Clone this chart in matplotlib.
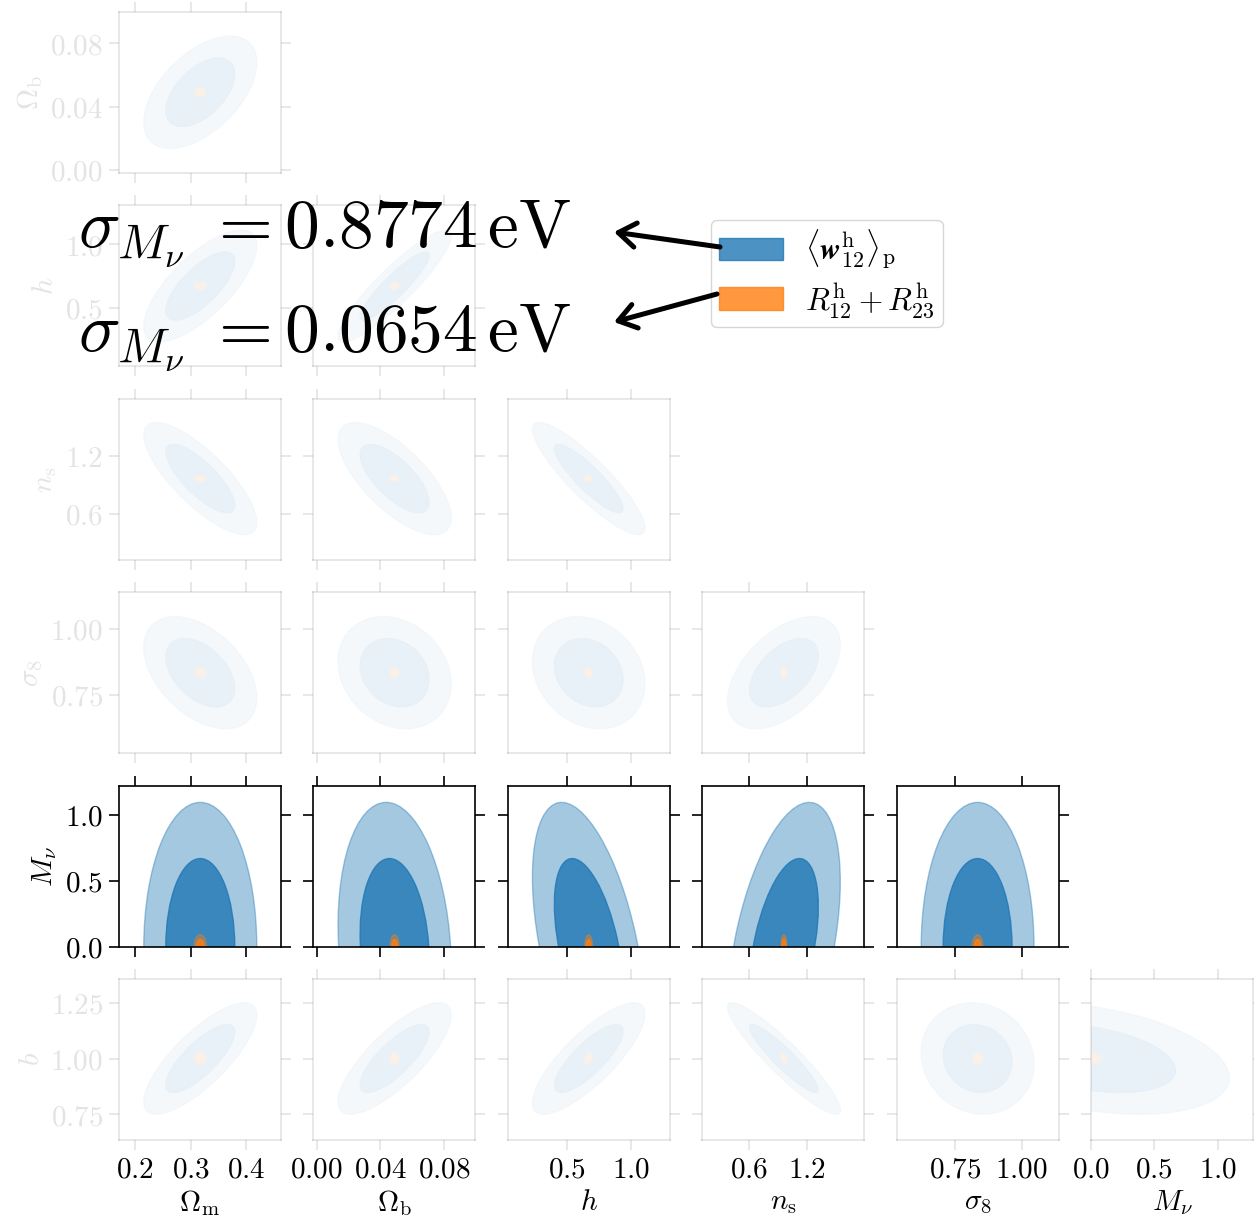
import numpy as np
import matplotlib
matplotlib.use("Agg")
import matplotlib.pyplot as plt
from matplotlib.patches import Ellipse, Patch, FancyArrowPatch, Rectangle

plt.rcParams["mathtext.fontset"] = "cm"
plt.rcParams["font.family"] = ["DejaVu Serif"]

# ---------------- data ----------------
param_labels = [r"$\Omega_{\rm m}$", r"$\Omega_{\rm b}$", r"$h$", r"$n_{\rm s}$",
                r"$\sigma_8$", r"$M_\nu$", r"$b$"]
fiducial = [0.3175, 0.049, 0.6711, 0.9624, 0.834, 0.0, 1.0]
sigma_blue = [0.041, 0.0143, 0.177, 0.234, 0.0855, 0.44, 0.101]
sigma_orange = [0.0045, 0.00115, 0.0125, 0.0125, 0.0081, 0.036, 0.011]

# lower triangle: row r -> parameter r+1 against parameters 0..r
corr_blue = [
    [0.53],
    [0.72, 0.90],
    [-0.78, -0.70, -0.88],
    [-0.45, -0.20, -0.20, 0.50],
    [0.00, -0.15, -0.48, 0.45, 0.00],
    [0.78, 0.78, 0.80, -0.92, -0.10, -0.35],
]
corr_orange = [
    [0.0],
    [0.0, 0.3],
    [0.0, 0.0, -0.3],
    [0.0, 0.0, 0.0, 0.0],
    [0.0, 0.0, 0.0, 0.0, 0.0],
    [0.0, 0.0, 0.3, -0.6, 0.0, 0.0],
]

ticks = [[0.2, 0.3, 0.4], [0.00, 0.04, 0.08], [0.5, 1.0], [0.6, 1.2],
         [0.75, 1.00], [0.0, 0.5, 1.0], [0.75, 1.00, 1.25]]
tick_labels = [["0.2", "0.3", "0.4"], ["0.00", "0.04", "0.08"], ["0.5", "1.0"],
               ["0.6", "1.2"], ["0.75", "1.00"], ["0.0", "0.5", "1.0"],
               ["0.75", "1.00", "1.25"]]
xlims = [(0.171, 0.463), (-0.002, 0.0997), (0.039, 1.305), (0.12, 1.79),
         (0.529, 1.139), (0.0, 1.28)]
ylims = [(-0.002, 0.0997), (0.039, 1.305), (0.12, 1.79), (0.529, 1.139),
         (0.0, 1.22), (0.633, 1.358)]

sigma_mnu_text = ["0.8774", "0.0654"]
legend_labels = [r"$\langle \mathbfit{w}^{\rm h}_{12}\rangle_{\rm p}$",
                 r"$R^{\rm h}_{12} + R^{\rm h}_{23}$"]
highlight_row = 4  # the M_nu row is drawn at full opacity

# ---------------- style ----------------
BLUE = "#1f77b4"
ORANGE = "#ff7f0e"
K_LEVELS = [(np.sqrt(6.17), 0.4), (np.sqrt(2.30), 0.8)]
FADE = 0.11
FS = 21

W, H = 1254, 1223
fig = plt.figure(figsize=(W / 100, H / 100), dpi=100)
x0, dx, pw = 119, 194.4, 162
y0, dy, ph = 12, 193.4, 161


def add_gauss(ax, mx, my, sx, sy, rho, color):
    cov = np.array([[sx * sx, rho * sx * sy], [rho * sx * sy, sy * sy]])
    vals, vecs = np.linalg.eigh(cov)
    ang = np.degrees(np.arctan2(vecs[1, 1], vecs[0, 1]))
    for k, a in K_LEVELS:
        ax.add_patch(Ellipse((mx, my), 2 * k * np.sqrt(vals[1]), 2 * k * np.sqrt(vals[0]),
                             angle=ang, facecolor=color, edgecolor=color, lw=1.0,
                             alpha=a, zorder=1))


for i in range(6):
    p = i + 1
    faded = i != highlight_row
    cfade = (0, 0, 0, FADE) if faded else (0, 0, 0, 1)
    for j in range(i + 1):
        ax = fig.add_axes([(x0 + j * dx) / W, 1 - (y0 + i * dy + ph) / H, pw / W, ph / H])
        add_gauss(ax, fiducial[j], fiducial[p], sigma_blue[j], sigma_blue[p],
                  corr_blue[i][j], BLUE)
        add_gauss(ax, fiducial[j], fiducial[p], sigma_orange[j], sigma_orange[p],
                  corr_orange[i][j], ORANGE)
        if faded:
            ax.add_patch(Rectangle((0, 0), 1, 1, transform=ax.transAxes,
                                   facecolor="white", edgecolor="none",
                                   alpha=1 - FADE, zorder=2))
        ax.set_xlim(xlims[j])
        ax.set_ylim(ylims[i])
        ax.set_xticks(ticks[j])
        ax.set_yticks(ticks[p])
        ax.tick_params(which="major", direction="out", length=7.5, width=1.2,
                       top=True, right=True, color=cfade, labelsize=FS, pad=4)
        for sp in ax.spines.values():
            sp.set_color(cfade)
            sp.set_linewidth(1.2)
        if i == 5:
            ax.set_xticklabels([f"${t}$" for t in tick_labels[j]], color="k")
            ax.set_xlabel(param_labels[j], fontsize=FS, color="k", labelpad=3)
            for t in ax.xaxis.get_major_ticks():
                t.tick1line.set_color("k")
        else:
            ax.tick_params(labelbottom=False)
        if j == 0:
            ax.set_yticklabels([f"${t}$" for t in tick_labels[p]], color=cfade)
            ax.set_ylabel(param_labels[p], fontsize=FS, color=cfade, labelpad=4)
        else:
            ax.tick_params(labelleft=False)

# ---------------- annotations ----------------
for val, yb in zip(sigma_mnu_text, [248, 352]):
    fig.text(78 / W, 1 - yb / H, r"$\sigma_{M_\nu}\;{=}" + val + r"\,\mathrm{eV}$",
             fontsize=50, va="baseline", ha="left", color="k", zorder=10)

handles = [Patch(facecolor=BLUE, edgecolor=BLUE, alpha=0.8),
           Patch(facecolor=ORANGE, edgecolor=ORANGE, alpha=0.8)]
leg = fig.legend(handles, legend_labels, loc="upper left",
                 bbox_to_anchor=(711 / W, 1 - 220 / H), borderaxespad=0,
                 fontsize=22.5, handlelength=2.05, handleheight=0.73,
                 handletextpad=0.72, borderpad=0.25, labelspacing=0.3)

arrows = [((720, 247), (614, 232)), ((717, 294), (614, 322))]
for (xa, ya), (xb, yb) in arrows:
    arr = FancyArrowPatch((xa / W, 1 - ya / H), (xb / W, 1 - yb / H),
                          transform=fig.transFigure,
                          arrowstyle="->,head_length=0.5,head_width=0.35",
                          mutation_scale=25, lw=3.6, color="k",
                          shrinkA=0, shrinkB=0, zorder=11)
    fig.add_artist(arr)

fig.savefig("out.png", dpi=100)
